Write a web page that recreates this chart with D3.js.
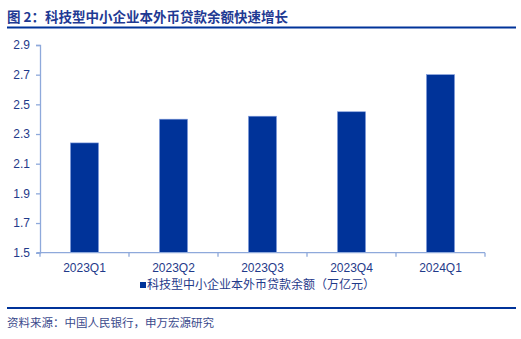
<!DOCTYPE html>
<html>
<head>
<meta charset="utf-8">
<script src="https://cdn.jsdelivr.net/npm/d3@7"></script>
<style>
  html, body { margin: 0; padding: 0; background: #fff; }
  svg { display: block; }
</style>
</head>
<body>
<svg id="chart" width="521" height="339"></svg>
<script>
// Quarterly balance of loans to tech SMEs (trillion yuan)
const categories = ["2023Q1", "2023Q2", "2023Q3", "2023Q4", "2024Q1"];
const values = [2.24, 2.40, 2.42, 2.45, 2.70];
const yTicks = [1.5, 1.7, 1.9, 2.1, 2.3, 2.5, 2.7, 2.9];
const titleText = "图 2：科技型中小企业本外币贷款余额快速增长";
const seriesName = "科技型中小企业本外币贷款余额（万亿元）";
const sourceText = "资料来源：中国人民银行，申万宏源研究";

const svg = d3.select("#chart");
const cjk = "'Noto Sans CJK SC', 'Liberation Sans', sans-serif";
const latin = "'Liberation Sans', Arial, sans-serif";
const textBlue = "#1F3A8A";
const barBlue = "#003399";
const axisBlue = "#8EA9DB";

// Title and rule
svg.append("text")
  .attr("x", 7).attr("y", 22)
  .attr("font-family", cjk).attr("font-weight", "bold")
  .attr("font-size", 13.5).attr("fill", "#1F3A93")
  .text(titleText);
svg.append("rect").attr("x", 7).attr("y", 26.5).attr("width", 509).attr("height", 2).attr("fill", barBlue);

// Scales
const x = d3.scaleBand().domain(categories).range([40, 485]).paddingInner(0.685).paddingOuter(0.3425);
const y = d3.scaleLinear().domain([1.5, 2.9]).range([252.7, 45]);

// Bars
svg.append("g").selectAll("rect").data(values).join("rect")
  .attr("x", (d, i) => x(categories[i]))
  .attr("y", d => y(d))
  .attr("width", x.bandwidth())
  .attr("height", d => y(1.5) - y(d))
  .attr("fill", barBlue)
  .attr("stroke", "#7F9BDD").attr("stroke-width", 0.6);

// Y axis
const yAxis = svg.append("g").attr("transform", "translate(40,0)")
  .call(d3.axisLeft(y).tickValues(yTicks).tickFormat(d3.format(".1f")).tickSize(4).tickPadding(6));
yAxis.select(".domain").attr("stroke", axisBlue).attr("stroke-width", 1.3);
yAxis.selectAll(".tick line").attr("stroke", axisBlue).attr("stroke-width", 1.3);
yAxis.selectAll(".tick text").attr("font-family", latin).attr("font-size", 12).attr("fill", textBlue);

// X axis with ticks on category boundaries
const xAxisG = svg.append("g").attr("transform", `translate(0,${y(1.5)})`);
const [x0, x1] = x.range();
xAxisG.append("line").attr("x1", 37).attr("x2", x1).attr("y1", 0).attr("y2", 0)
  .attr("stroke", axisBlue).attr("stroke-width", 1.3);
xAxisG.selectAll("line.tk").data(d3.range(categories.length + 1)).join("line")
  .attr("class", "tk")
  .attr("x1", i => x0 + i * x.step())
  .attr("x2", i => x0 + i * x.step())
  .attr("y1", 0).attr("y2", 4)
  .attr("stroke", axisBlue).attr("stroke-width", 1.3);
xAxisG.selectAll("text").data(categories).join("text")
  .attr("x", d => x(d) + x.bandwidth() / 2)
  .attr("y", 19)
  .attr("text-anchor", "middle")
  .attr("font-family", latin).attr("font-size", 12).attr("fill", textBlue)
  .text(d => d);

// Legend
svg.append("rect").attr("x", 140).attr("y", 282).attr("width", 6).attr("height", 6).attr("fill", barBlue);
svg.append("text").attr("x", 147).attr("y", 289)
  .attr("font-family", cjk).attr("font-size", 12).attr("fill", textBlue)
  .text(seriesName);

// Footer rule and source
svg.append("rect").attr("x", 7).attr("y", 307).attr("width", 509).attr("height", 2).attr("fill", barBlue);
svg.append("text").attr("x", 7).attr("y", 327)
  .attr("font-family", cjk).attr("font-size", 11.5).attr("fill", "#3B4A8C")
  .text(sourceText);
</script>
</body>
</html>
